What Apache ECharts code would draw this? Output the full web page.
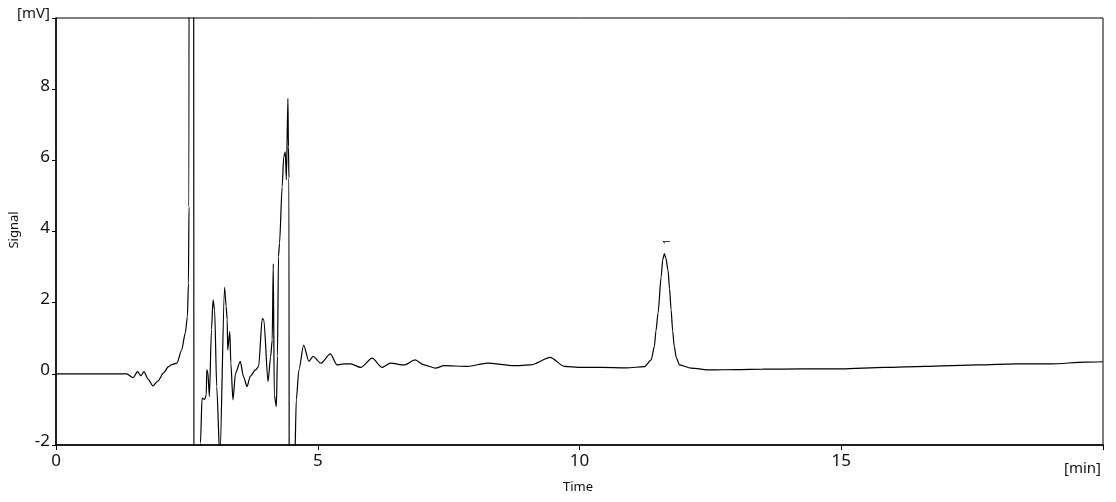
<!DOCTYPE html>
<html>
<head>
<meta charset="utf-8">
<script src="https://cdn.jsdelivr.net/npm/echarts@6/dist/echarts.min.js"></script>
<style>
html,body{margin:0;padding:0;background:#fff;}
#chart{width:1116px;height:502px;}
</style>
</head>
<body>
<div id="chart"></div>
<script>
// Retention time [min]
var times = [0, 1.35, 1.47, 1.56, 1.62, 1.68, 1.76, 1.85, 1.95, 2.05, 2.15, 2.21, 2.31, 2.40, 2.47, 2.51, 2.53, 2.54, 2.55, 2.62, 2.64, 2.74,
  2.76, 2.79, 2.84, 2.87, 2.88, 2.90, 2.93, 2.97, 3.00, 3.03, 3.07, 3.13, 3.22, 3.25, 3.27, 3.28, 3.32, 3.34, 3.38, 3.43, 3.52, 3.58, 3.65, 3.71, 3.81, 3.87, 3.94, 3.97, 4.05, 4.10, 4.13, 4.15, 4.17, 4.21, 4.23, 4.25, 4.27, 4.32, 4.35, 4.38, 4.40, 4.43, 4.44, 4.45, 4.46, 4.53,
  4.56, 4.59, 4.64, 4.73, 4.83, 4.91, 5.06, 5.24, 5.37, 5.50, 5.63, 5.82, 6.04, 6.23, 6.39, 6.65, 6.86, 7.03, 7.25, 7.41, 7.86, 8.24, 8.75, 9.07, 9.44, 9.71, 10.03, 10.41, 10.9,
  11.24, 11.37, 11.43, 11.46, 11.50, 11.56, 11.59, 11.62, 11.65, 11.69, 11.72, 11.75, 11.78, 11.81, 11.85, 11.91, 12.13, 12.51, 13.0, 13.5, 14.24, 15.0, 15.83, 16.6, 17.62, 18.32, 19.02, 19.66, 20.0];
// Signal [mV]
var signal = [0, 0, -0.11, 0.06, -0.06, 0.06, -0.15, -0.34, -0.2, 0.02, 0.2, 0.26, 0.30, 0.67, 1.15, 1.61, 2.55, 4.7, 40, 40, -15, -15,
  -1.94, -0.68, -0.72, -0.59, 0.11, 0.05, -0.64, 1.24, 2.08, 1.8, -0.36, -2.4, 2.43, 1.9, 1.52, 0.67, 1.19, 0.3, -0.73, 0.02, 0.35, -0.07, -0.36, -0.07, 0.11, 0.2, 1.56, 1.51, -0.22, 0.48, 0.95, 3.09, -0.6, -0.92, 0.5, 3.3, 3.67, 5.26, 6.1, 6.24, 5.45, 7.74, 6.38, 5.5, -15, -15,
  -2.5, -0.73, 0.11, 0.81, 0.35, 0.49, 0.30, 0.56, 0.25, 0.28, 0.28, 0.18, 0.44, 0.18, 0.30, 0.25, 0.39, 0.25, 0.16, 0.23, 0.21, 0.30, 0.23, 0.25, 0.46, 0.21, 0.18, 0.18, 0.17,
  0.2, 0.39, 0.77, 1.2, 1.70, 2.73, 3.2, 3.38, 3.25, 2.92, 2.4, 1.80, 1.2, 0.77, 0.45, 0.25, 0.16, 0.11, 0.12, 0.13, 0.14, 0.14, 0.18, 0.21, 0.25, 0.28, 0.28, 0.33, 0.34];
// Peak annotation
var peakNames = ['1'];
var peakTimes = [11.62];
var peakHeights = [3.38];

var data = times.map(function (t, i) { return [t, signal[i]]; });
var chart = echarts.init(document.getElementById('chart'), null, {renderer: 'canvas'});
var font = 'Noto Sans';
chart.setOption({
  animation: false,
  backgroundColor: '#fff',
  grid: {left: 56, right: 13, top: 18, bottom: 57, show: true, borderColor: '#000', borderWidth: 1,
    containLabel: false, outerBoundsMode: 'none'},
  xAxis: {
    type: 'value', min: 0, max: 20, interval: 5,
    name: '[min]', nameLocation: 'end', nameGap: -2,
    nameTextStyle: {fontFamily: font, fontSize: 15, color: '#111', align: 'right', verticalAlign: 'top', padding: [16, 0, 0, 0]},
    axisLine: {show: true, onZero: false, lineStyle: {color: '#000', width: 1.5}},
    axisTick: {show: true, length: 5, lineStyle: {color: '#000'}},
    splitLine: {show: false},
    axisLabel: {fontFamily: font, fontSize: 17, color: '#111', margin: 8,
      formatter: function (v) { return v === 20 ? '' : String(v); }}
  },
  yAxis: {
    type: 'value', min: -2, max: 10, interval: 2,
    axisLine: {show: true, onZero: false, lineStyle: {color: '#000', width: 1.5}},
    axisTick: {show: true, length: 4, lineStyle: {color: '#000'}},
    splitLine: {show: false},
    axisLabel: {fontFamily: font, fontSize: 17, color: '#111', margin: 6, padding: [0, 0, 7, 0],
      formatter: function (v) { return v === 10 ? '{u|[mV]}' : String(v); },
      rich: {u: {fontFamily: font, fontSize: 15, color: '#111', padding: [0, 0, 2, 0]}}}
  },
  graphic: [
    {type: 'text', x: 578, y: 481, style: {text: 'Time', font: '13px "Noto Sans"', fill: '#111', align: 'center', verticalAlign: 'top'}},
    {type: 'text', x: 14, y: 230, rotation: Math.PI / 2, style: {text: 'Signal', font: '13px "Noto Sans"', fill: '#111', align: 'center', verticalAlign: 'middle'}}
  ],
  series: [{
    type: 'line', data: data, showSymbol: false, symbol: 'none', clip: true,
    smooth: 0.25, smoothMonotone: 'x',
    lineStyle: {color: '#000', width: 1.2},
    markPoint: {
      symbol: 'circle', symbolSize: 0,
      data: peakNames.map(function (n, i) { return {coord: [peakTimes[i], peakHeights[i]], value: n, name: n}; }),
      label: {show: true, position: 'top', distance: 10, rotate: 90, offset: [2, 8], fontSize: 9, color: '#000', fontFamily: font,
        formatter: function (p) { return p.value; }}
    }
  }]
});
</script>
</body>
</html>
